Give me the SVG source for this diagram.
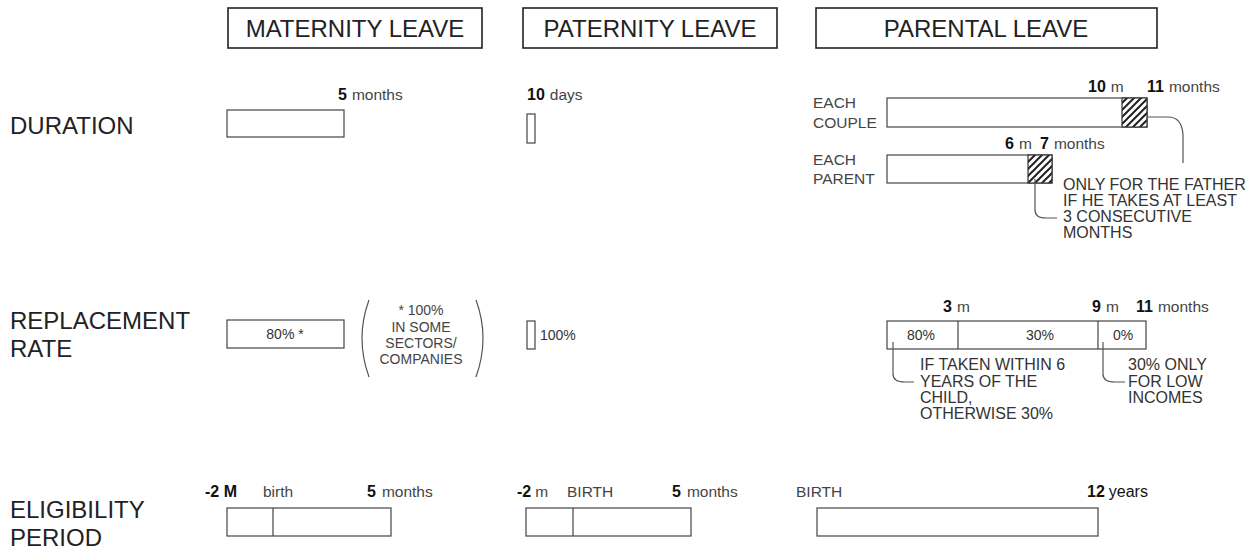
<svg xmlns="http://www.w3.org/2000/svg" width="1250" height="551" viewBox="0 0 1250 551">
<defs>
<style>
text{font-family:"Liberation Sans",Arial,sans-serif;fill:#222}
.hdr{font-size:24px;text-anchor:middle}
.row{font-size:24px}
.num{font-size:16px;font-weight:bold;fill:#111}
.unit{font-size:15.5px;fill:#444}
.sm{font-size:15.5px;fill:#444}
.par{font-size:14px;fill:#444;text-anchor:middle}
.note{font-size:16px;fill:#333}
.pct{font-size:14px;fill:#333;text-anchor:middle}
.pcts{font-size:14px;fill:#333;text-anchor:start}
.hbox{fill:#fff;stroke:#222;stroke-width:1.6}
.bar{fill:#fff;stroke:#444;stroke-width:1.2}
.div{stroke:#444;stroke-width:1.2}
.con{fill:none;stroke:#555;stroke-width:1.2}
</style>
<pattern id="hatch" patternUnits="userSpaceOnUse" width="7" height="7">
<rect width="7" height="7" fill="#fff"/>
<path d="M-1,1 l2,-2 M0,7 l7,-7 M6,8 l2,-2" stroke="#222" stroke-width="2"/>
</pattern>
</defs>
<rect width="1250" height="551" fill="#fff"/>

<g id="headers">
<g id="hdr-maternity"><rect class="hbox" x="228" y="8" width="254" height="40"/><text class="hdr" x="355" y="37">MATERNITY LEAVE</text></g>
<g id="hdr-paternity"><rect class="hbox" x="523" y="8" width="254" height="40"/><text class="hdr" x="650" y="37">PATERNITY LEAVE</text></g>
<g id="hdr-parental"><rect class="hbox" x="816" y="8" width="341" height="40"/><text class="hdr" x="986" y="37">PARENTAL LEAVE</text></g>
</g>

<g id="row-labels">
<text class="row" x="10" y="134">DURATION</text>
<text class="row" x="10" y="329">REPLACEMENT</text>
<text class="row" x="10" y="357">RATE</text>
<text class="row" x="10" y="518">ELIGIBILITY</text>
<text class="row" x="10" y="546">PERIOD</text>
</g>

<g id="dur-maternity">
<text x="338" y="100"><tspan class="num">5</tspan><tspan class="unit" dx="5">months</tspan></text>
<rect class="bar" x="227" y="110" width="117" height="27"/>
</g>

<g id="dur-paternity">
<text x="527" y="100"><tspan class="num">10</tspan><tspan class="unit" dx="5">days</tspan></text>
<rect class="bar" x="527" y="114" width="8" height="29"/>
</g>

<g id="dur-parental">
<text x="1088" y="92"><tspan class="num">10</tspan><tspan class="unit" dx="5">m</tspan></text>
<text x="1147" y="92"><tspan class="num">11</tspan><tspan class="unit" dx="5">months</tspan></text>
<text class="sm" x="813" y="108">EACH</text>
<text class="sm" x="813" y="128">COUPLE</text>
<rect class="bar" x="887" y="98" width="260" height="29"/>
<rect x="1122" y="98" width="25" height="29" fill="url(#hatch)" stroke="#333" stroke-width="1.2"/>
<text x="1005" y="149"><tspan class="num">6</tspan><tspan class="unit" dx="5">m</tspan></text>
<text x="1040" y="149"><tspan class="num">7</tspan><tspan class="unit" dx="5">months</tspan></text>
<text class="sm" x="813" y="165">EACH</text>
<text class="sm" x="813" y="184">PARENT</text>
<rect class="bar" x="887" y="155" width="165" height="28"/>
<rect x="1028" y="155" width="24" height="28" fill="url(#hatch)" stroke="#333" stroke-width="1.2"/>
<text class="note" x="1063" y="190">ONLY FOR THE FATHER</text>
<text class="note" x="1063" y="206">IF HE TAKES AT LEAST</text>
<text class="note" x="1063" y="222">3 CONSECUTIVE</text>
<text class="note" x="1063" y="238">MONTHS</text>
</g>

<g id="rate-maternity">
<rect class="bar" x="227" y="320" width="117" height="28"/>
<text class="pct" x="285" y="339">80% *</text>
<path class="con" d="M369,300 Q355,338 369,377"/>
<path class="con" d="M476,300 Q490,338 476,377"/>
<text class="par" x="421" y="315">* 100%</text>
<text class="par" x="421" y="332">IN SOME</text>
<text class="par" x="421" y="348">SECTORS/</text>
<text class="par" x="421" y="364">COMPANIES</text>
</g>

<g id="rate-paternity">
<rect class="bar" x="527" y="321" width="8" height="28"/>
<text class="pcts" x="540" y="340">100%</text>
</g>

<g id="rate-parental">
<text x="943" y="312"><tspan class="num">3</tspan><tspan class="unit" dx="5">m</tspan></text>
<text x="1092" y="312"><tspan class="num">9</tspan><tspan class="unit" dx="5">m</tspan></text>
<text x="1136" y="312"><tspan class="num">11</tspan><tspan class="unit" dx="5">months</tspan></text>
<rect class="bar" x="887" y="321" width="259" height="28"/>
<line class="div" x1="958" y1="321" x2="958" y2="349"/>
<line class="div" x1="1098" y1="321" x2="1098" y2="349"/>
<text class="pct" x="921" y="340">80%</text>
<text class="pct" x="1040" y="340">30%</text>
<text class="pct" x="1123" y="340">0%</text>
<text class="note" x="920" y="370">IF TAKEN WITHIN 6</text>
<text class="note" x="920" y="387">YEARS OF THE</text>
<text class="note" x="920" y="403">CHILD,</text>
<text class="note" x="920" y="419">OTHERWISE 30%</text>
<text class="note" x="1128" y="370">30% ONLY</text>
<text class="note" x="1128" y="387">FOR LOW</text>
<text class="note" x="1128" y="403">INCOMES</text>
</g>

<g id="elig-maternity">
<text class="num" x="205" y="497">-2 M</text>
<text class="unit" x="263" y="497">birth</text>
<text x="367" y="497"><tspan class="num">5</tspan><tspan class="unit" dx="6">months</tspan></text>
<rect class="bar" x="227" y="508" width="164" height="28"/>
<line class="div" x1="273" y1="508" x2="273" y2="536"/>
</g>

<g id="elig-paternity">
<text x="517" y="497"><tspan class="num">-2</tspan><tspan class="unit" dx="4">m</tspan></text>
<text class="unit" x="567" y="497">BIRTH</text>
<text x="672" y="497"><tspan class="num">5</tspan><tspan class="unit" dx="6">months</tspan></text>
<rect class="bar" x="526" y="508" width="165" height="28"/>
<line class="div" x1="573" y1="508" x2="573" y2="536"/>
</g>

<g id="elig-parental">
<text class="unit" x="796" y="497">BIRTH</text>
<text x="1087" y="497"><tspan class="num">12</tspan><tspan style="font-size:16px;fill:#111" dx="4">years</tspan></text>
<rect class="bar" x="817" y="508" width="281" height="28"/>
</g>

<g id="connectors">
<path class="con" d="M1147,117 L1168,117 Q1182,117 1183,135 L1183,163"/>
<path class="con" d="M1035,179 L1035,210 Q1035,218 1046,218 L1057,218"/>
<path class="con" d="M893,342 L893,374 Q893,382 905,382 L914,382"/>
<path class="con" d="M1103,342 L1103,374 Q1103,382 1115,382 L1125,382"/>
</g>
</svg>
